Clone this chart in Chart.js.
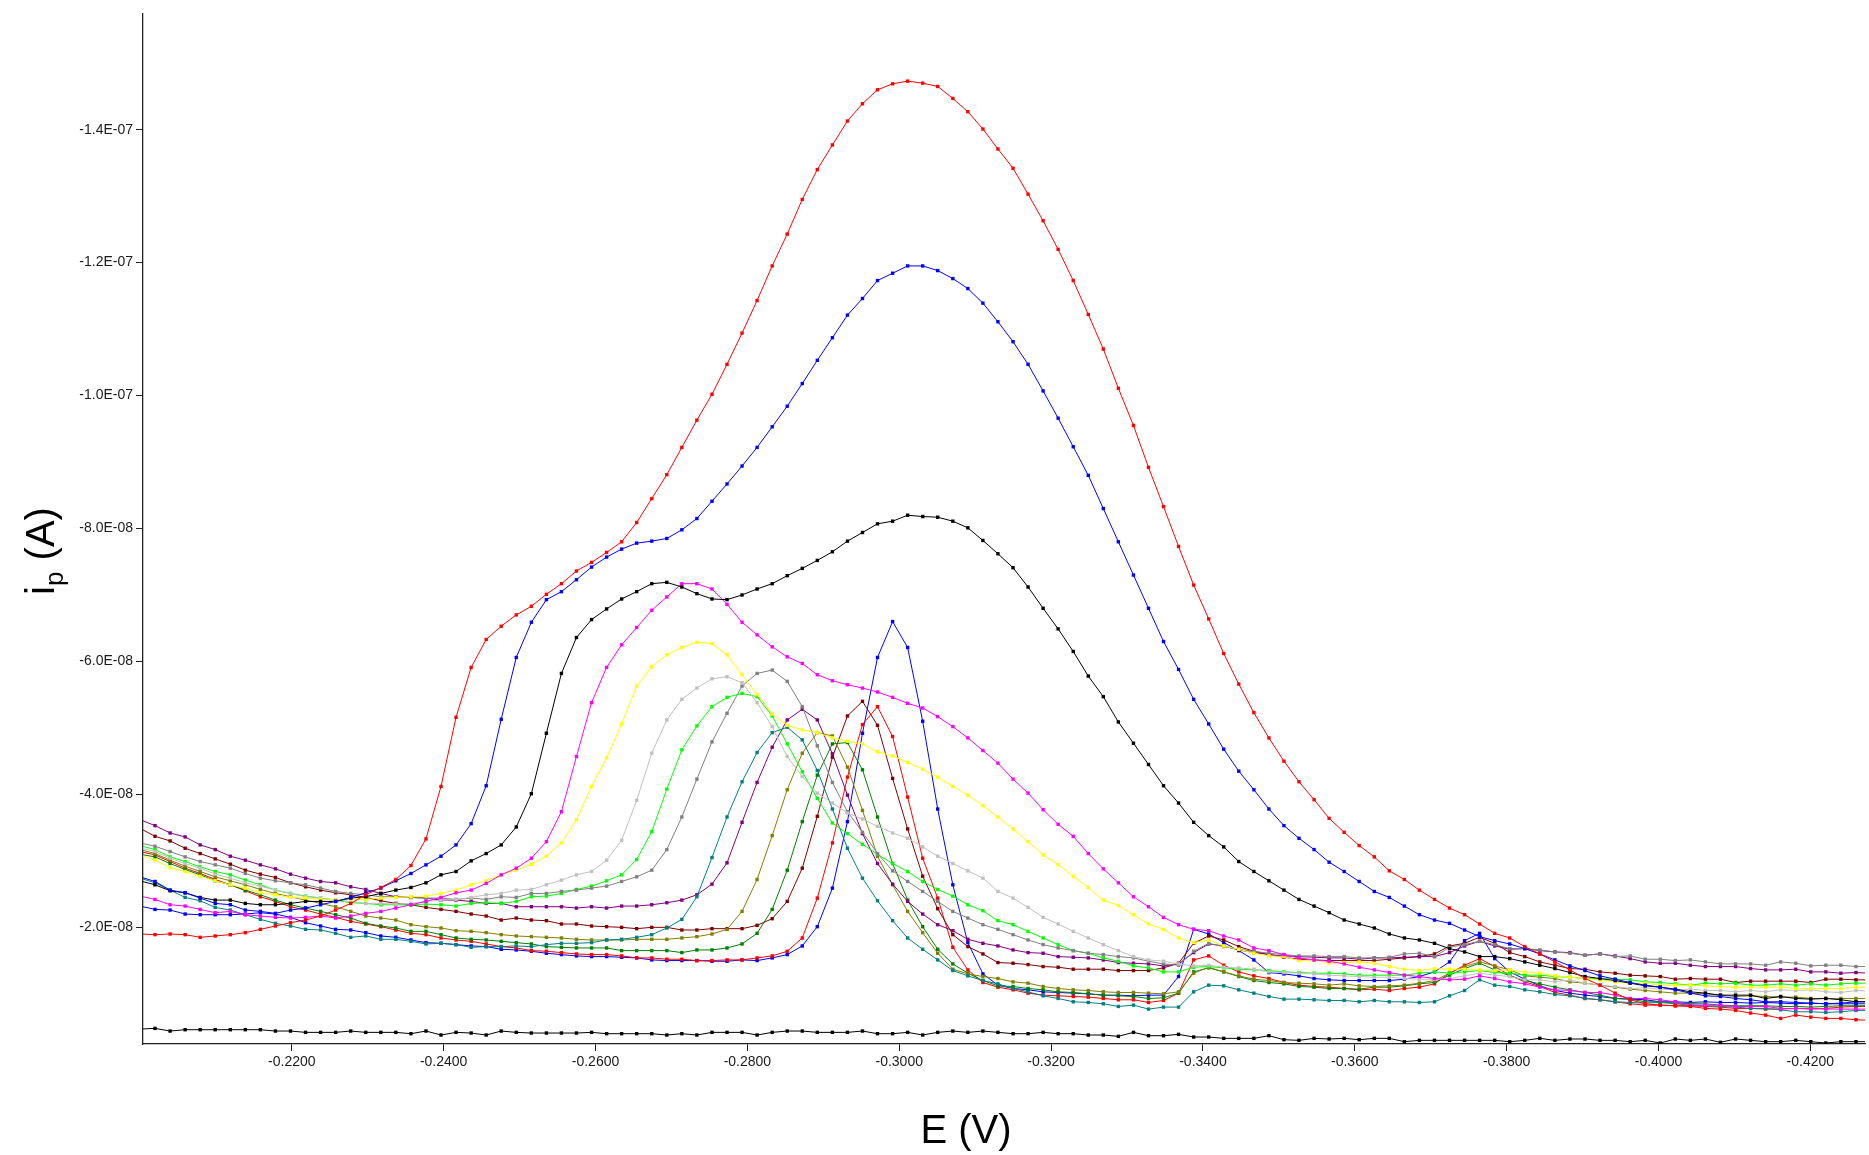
<!DOCTYPE html>
<html>
<head>
<meta charset="utf-8">
<title>Voltammograms</title>
<script src="https://cdn.jsdelivr.net/npm/chart.js@4.4.1/dist/chart.umd.min.js"></script>
<style>
  html, body { margin: 0; padding: 0; background: #ffffff; }
  #chartBox { width: 1869px; height: 1155px; }
</style>
</head>
<body>
<div id="chartBox"><canvas id="voltChart" width="1869" height="1155"></canvas></div>
<script>
// Potential grid (V), sampling step about 1.98 mV
const potentials = [
  -0.20000, -0.20198, -0.20397, -0.20595, -0.20793, -0.20991, -0.21190, -0.21388, -0.21586, -0.21784,
  -0.21983, -0.22181, -0.22379, -0.22577, -0.22776, -0.22974, -0.23172, -0.23370, -0.23569, -0.23767,
  -0.23965, -0.24163, -0.24362, -0.24560, -0.24758, -0.24956, -0.25155, -0.25353, -0.25551, -0.25749,
  -0.25948, -0.26146, -0.26344, -0.26542, -0.26741, -0.26939, -0.27137, -0.27335, -0.27534, -0.27732,
  -0.27930, -0.28128, -0.28327, -0.28525, -0.28723, -0.28921, -0.29120, -0.29318, -0.29516, -0.29714,
  -0.29913, -0.30111, -0.30309, -0.30507, -0.30706, -0.30904, -0.31102, -0.31300, -0.31499, -0.31697,
  -0.31895, -0.32093, -0.32292, -0.32490, -0.32688, -0.32886, -0.33085, -0.33283, -0.33481, -0.33679,
  -0.33878, -0.34076, -0.34274, -0.34472, -0.34671, -0.34869, -0.35067, -0.35265, -0.35464, -0.35662,
  -0.35860, -0.36058, -0.36257, -0.36455, -0.36653, -0.36851, -0.37050, -0.37248, -0.37446, -0.37644,
  -0.37843, -0.38041, -0.38239, -0.38437, -0.38636, -0.38834, -0.39032, -0.39230, -0.39429, -0.39627,
  -0.39825, -0.40023, -0.40222, -0.40420, -0.40618, -0.40816, -0.41015, -0.41213, -0.41411, -0.41609,
  -0.41808, -0.42006, -0.42204, -0.42402, -0.42601, -0.42799
];

// Currents, stored as |i| in units of 1e-8 A (cathodic, plotted negative)
const AMP_UNIT = -1e-8;

const red1 = [1.90,
  1.89,1.90,1.89,1.85,1.87,1.89,1.92,1.97,2.02,2.07,2.11,2.17,2.26,2.36,2.49,2.60,2.72,2.93,3.33,4.12,5.16,5.91,6.33,6.53,6.70,6.83,7.01,7.17,7.36,7.49,
  7.64,7.80,8.09,8.45,8.81,9.22,9.63,10.02,10.47,10.94,11.43,11.95,12.43,12.95,13.40,13.77,14.13,14.39,14.60,14.69,14.73,14.70,14.65,14.47,14.27,14.01,13.71,13.42,13.03,12.63,12.20,11.73,11.22,
  10.70,10.11,9.55,8.92,8.33,7.73,
  7.15,6.64,6.12,5.66,5.23,4.85,4.50,4.19,3.92,3.64,3.43,3.23,3.06,2.85,2.72,2.56,2.42,
  2.29,2.19,2.05,1.91,1.84,1.71,1.60,1.48,1.36,1.23,1.13,1.01,0.91,0.85,0.83,0.82,0.81,0.78,0.77,0.75,0.71,0.68,0.63,0.68,0.65,0.63,0.63,0.61,
  0.60];

const blue1 = [2.76,
  2.69,2.56,2.52,2.44,2.36,2.34,2.26,2.24,2.21,2.26,2.29,2.34,2.39,2.45,2.52,2.59,2.70,2.81,2.94,3.07,3.24,3.56,4.13,5.13,6.06,6.59,6.93,7.05,7.23,7.42,
  7.57,7.69,7.78,7.81,7.85,7.98,8.15,8.41,8.67,8.94,9.22,9.53,9.84,10.18,10.53,10.87,11.21,11.46,11.73,11.84,11.95,11.95,11.88,11.76,11.61,11.39,11.11,10.81,10.47,10.07,9.66,9.23,8.80,
  8.30,7.80,
  7.30,6.80,6.30,5.88,5.43,5.06,4.68,4.35,4.07,3.78,3.53,3.34,3.17,2.98,2.84,2.69,2.54,2.45,2.32,2.19,2.11,
  2.06,1.96,1.86,1.80,1.75,1.68,1.60,1.51,1.42,1.35,1.27,1.22,1.17,1.13,1.10,1.06,1.01,0.97,0.96,0.93,0.91,0.88,0.88,0.87,0.86,0.85,0.85,0.85,
  0.85];

const black1 = [2.70,
  2.64,2.55,2.52,2.45,2.41,2.41,2.36,2.34,2.34,2.36,2.39,2.39,2.39,2.44,2.46,2.51,2.56,2.60,2.67,2.79,2.84,3.00,3.11,3.24,3.51,4.01,4.92,5.82,6.36,6.63,
  6.79,6.94,7.05,7.17,7.19,7.12,7.02,6.94,6.93,7.00,7.09,7.17,7.29,7.40,7.52,7.65,7.81,7.94,8.07,8.11,8.20,8.18,8.17,8.11,8.01,7.82,7.62,7.41,
  7.12,6.80,6.49,6.15,5.78,5.47,5.09,4.77,4.45,4.13,3.87,3.58,3.38,3.21,2.99,2.84,2.70,2.56,2.42,2.32,2.22,2.11,2.05,1.99,1.90,1.84,1.81,1.76,
  1.68,1.63,1.56,1.56,1.53,1.48,1.43,1.38,1.32,1.26,1.23,1.20,1.16,1.12,1.10,1.07,1.03,1.01,0.98,0.98,0.98,0.93,0.96,0.93,0.92,0.93,0.91,0.88,
  0.88];

const magenta = [2.47,
  2.42,2.34,2.32,2.27,2.22,2.24,2.19,2.17,2.15,2.14,2.15,2.17,2.14,2.17,2.21,2.24,2.29,2.34,2.39,2.45,2.52,2.56,2.66,2.79,2.89,3.04,3.29,3.74,4.57,5.38,
  5.91,6.25,6.51,6.77,6.97,7.17,7.17,7.09,6.86,6.59,6.40,6.22,6.07,5.97,5.80,5.71,5.65,5.60,5.54,5.46,5.37,5.30,5.17,5.02,4.85,4.66,4.47,4.23,
  4.02,3.77,3.55,3.37,3.11,2.88,2.67,2.46,2.31,2.15,2.04,1.97,1.95,1.87,1.81,1.69,1.65,1.59,1.54,1.51,1.49,1.45,1.40,1.36,1.32,1.28,1.26,1.23,
  1.21,1.22,1.27,1.23,1.18,1.15,1.10,1.06,1.05,1.02,1.02,0.98,0.93,0.93,0.91,0.88,0.83,0.83,0.83,0.81,0.81,0.81,0.78,0.78,0.78,0.77,0.77,0.77,
  0.77];

const yellow = [3.09,
  3.01,2.90,2.84,2.77,2.70,2.64,2.59,2.52,2.49,2.45,2.44,2.42,2.41,2.42,2.42,2.44,2.45,2.46,2.47,2.51,2.56,2.64,2.70,2.79,2.86,2.95,3.07,3.27,3.62,4.12,
  4.55,5.06,5.63,5.92,6.10,6.21,6.29,6.27,6.10,5.80,5.50,5.21,5.04,4.97,4.93,4.85,4.80,4.76,4.64,4.58,4.48,4.38,4.26,4.12,3.99,3.83,3.66,3.48,
  3.29,3.09,2.94,2.77,2.60,2.41,2.33,2.19,2.05,1.97,1.84,1.77,1.81,1.72,1.67,1.61,1.57,1.56,1.50,1.51,1.46,1.47,1.48,1.46,1.41,1.37,1.35,1.38,
  1.37,1.37,1.36,1.35,1.36,1.33,1.31,1.27,1.25,1.23,1.21,1.18,1.16,1.16,1.13,1.13,1.13,1.12,1.11,1.10,1.10,1.10,1.10,1.08,1.08,1.08,1.08,1.10,
  1.10];

const silver = [3.20,
  3.14,3.04,2.96,2.89,2.80,2.74,2.67,2.62,2.56,2.51,2.46,2.44,2.41,2.39,2.36,2.36,2.35,2.36,2.39,2.41,2.42,2.45,2.49,2.51,2.56,2.57,2.64,2.71,2.79,2.84,
  3.01,3.31,3.91,4.62,5.12,5.43,5.60,5.74,5.77,5.68,5.38,5.02,4.57,4.27,4.02,3.87,3.72,3.63,3.52,3.42,3.34,3.21,3.07,2.96,2.85,2.74,2.54,2.44,
  2.30,2.15,2.05,1.94,1.84,1.74,1.65,1.56,1.51,1.49,1.45,1.42,1.43,1.40,1.39,1.37,1.33,1.32,1.31,1.30,1.28,1.27,1.26,1.25,1.25,1.23,1.22,1.22,
  1.23,1.27,1.31,1.28,1.26,1.21,1.21,1.18,1.21,1.16,1.13,1.11,1.08,1.09,1.07,1.06,1.07,1.05,1.05,1.03,1.05,1.03,1.06,1.05,1.06,1.03,1.02,1.05,
  1.04];

const gray = [3.27,
  3.22,3.14,3.06,2.99,2.94,2.89,2.81,2.74,2.70,2.67,2.64,2.59,2.54,2.51,2.49,2.46,2.46,2.45,2.44,2.44,2.42,2.44,2.42,2.46,2.45,2.51,2.51,2.54,2.56,2.59,
  2.62,2.69,2.76,2.86,3.17,3.66,4.23,4.79,5.22,5.63,5.82,5.87,5.70,5.32,4.73,4.18,3.74,3.43,3.11,2.85,2.69,2.54,2.39,2.24,2.14,2.04,1.97,1.89,
  1.81,1.74,1.69,1.65,1.61,1.59,1.56,1.54,1.49,1.45,1.43,1.64,1.76,1.71,1.67,1.64,1.61,1.59,1.57,1.57,1.56,1.56,1.54,1.54,1.55,1.60,1.61,1.56,
  1.70,1.74,1.79,1.74,1.68,1.68,1.66,1.63,1.61,1.58,1.60,1.56,1.57,1.52,1.52,1.50,1.51,1.48,1.45,1.45,1.45,1.43,1.48,1.46,1.42,1.43,1.43,1.41,
  1.41];

const purple = [3.62,
  3.53,3.42,3.36,3.24,3.17,3.07,3.01,2.94,2.88,2.80,2.74,2.69,2.67,2.61,2.57,2.51,2.46,2.45,2.44,2.41,2.41,2.39,2.36,2.36,2.31,2.31,2.31,2.31,2.29,2.31,
  2.29,2.32,2.32,2.34,2.37,2.41,2.49,2.65,2.97,3.58,4.18,4.71,5.12,5.28,5.12,4.61,3.99,3.41,2.96,2.65,2.39,2.20,2.04,1.95,1.82,1.76,1.72,1.66,
  1.62,1.61,1.56,1.55,1.54,1.51,1.47,1.46,1.45,1.42,1.45,1.62,1.75,1.72,1.66,1.62,1.59,1.57,1.56,1.55,1.54,1.54,1.52,1.54,1.54,1.55,1.56,1.56,
  1.62,1.72,1.79,1.72,1.67,1.68,1.65,1.63,1.62,1.58,1.60,1.57,1.53,1.48,1.46,1.46,1.43,1.41,1.41,1.41,1.38,1.36,1.36,1.37,1.33,1.33,1.31,1.32,
  1.31];

const maroon = [3.49,
  3.37,3.30,3.19,3.11,3.03,2.95,2.86,2.80,2.75,2.67,2.61,2.56,2.52,2.49,2.45,2.40,2.36,2.34,2.30,2.27,2.24,2.20,2.17,2.11,2.14,2.11,2.10,2.05,2.05,2.02,
  2.01,2.00,1.98,2.00,2.00,1.96,1.96,1.98,1.98,1.98,2.03,2.13,2.39,2.89,3.67,4.56,5.18,5.40,5.04,4.24,3.48,2.77,2.28,1.89,1.71,1.60,1.47,1.46,
  1.44,1.41,1.40,1.37,1.37,1.37,1.35,1.35,1.35,1.39,1.46,1.76,1.87,1.81,1.71,1.64,1.59,1.55,1.52,1.51,1.50,1.50,1.50,1.50,1.52,1.54,1.56,1.60,
  1.72,1.76,1.85,1.76,1.62,1.56,1.48,1.43,1.38,1.37,1.33,1.31,1.28,1.27,1.26,1.22,1.23,1.22,1.22,1.17,1.19,1.19,1.19,1.19,1.17,1.22,1.22,1.21,
  1.21];

const lime = [3.23,
  3.17,3.06,2.99,2.91,2.84,2.79,2.71,2.64,2.56,2.51,2.47,2.44,2.41,2.37,2.36,2.34,2.34,2.34,2.35,2.34,2.32,2.36,2.37,2.36,2.39,2.46,2.47,2.51,2.57,2.62,
  2.70,2.79,3.02,3.44,4.08,4.67,5.03,5.32,5.46,5.52,5.47,5.18,4.76,4.34,3.94,3.57,3.41,3.25,3.10,2.96,2.84,2.69,2.57,2.47,2.34,2.25,2.10,2.04,
  1.94,1.84,1.74,1.65,1.61,1.54,1.49,1.42,1.39,1.33,1.33,1.40,1.41,1.39,1.37,1.36,1.35,1.33,1.32,1.31,1.31,1.30,1.28,1.28,1.28,1.28,1.31,1.33,
  1.31,1.33,1.35,1.32,1.31,1.28,1.28,1.26,1.25,1.23,1.23,1.22,1.21,1.18,1.17,1.15,1.13,1.16,1.15,1.16,1.13,1.13,1.15,1.13,1.15,1.13,1.15,1.16,
  1.16];

const teal = [2.74,
  2.67,2.56,2.45,2.40,2.30,2.26,2.19,2.12,2.06,2.02,1.97,1.96,1.91,1.85,1.87,1.82,1.82,1.79,1.75,1.76,1.74,1.70,1.71,1.71,1.72,1.71,1.74,1.76,1.76,1.77,
  1.81,1.82,1.85,1.89,1.99,2.12,2.46,3.05,3.66,4.19,4.63,4.93,5.01,4.82,4.36,3.78,3.19,2.74,2.40,2.10,1.84,1.67,1.51,1.35,1.27,1.20,1.15,1.08,
  1.03,0.97,0.93,0.88,0.87,0.85,0.81,0.83,0.77,0.80,0.80,1.03,1.13,1.12,1.06,1.01,0.96,0.92,0.92,0.91,0.90,0.90,0.88,0.90,0.88,0.88,0.87,0.88,
  0.97,1.05,1.21,1.13,1.11,1.06,1.03,0.99,0.97,0.93,0.91,0.88,0.87,0.86,0.87,0.85,0.83,0.82,0.81,0.80,0.78,0.78,0.76,0.73,0.73,0.72,0.73,0.75,
  0.75];

const olive = [3.17,
  3.11,3.01,2.92,2.84,2.76,2.70,2.64,2.57,2.51,2.46,2.41,2.36,2.31,2.24,2.17,2.14,2.11,2.04,2.01,1.99,1.95,1.94,1.92,1.89,1.87,1.86,1.85,1.84,1.82,1.81,
  1.81,1.81,1.82,1.82,1.82,1.84,1.86,1.90,1.97,2.24,2.72,3.38,4.07,4.62,4.93,4.88,4.41,3.76,3.07,2.64,2.24,1.92,1.61,1.37,1.30,1.26,1.23,1.18,
  1.16,1.11,1.08,1.06,1.05,1.03,1.02,1.02,1.01,1.00,1.03,1.31,1.40,1.33,1.27,1.22,1.20,1.17,1.16,1.15,1.13,1.15,1.12,1.11,1.12,1.13,1.16,1.20,
  1.31,1.41,1.48,1.42,1.36,1.27,1.25,1.23,1.18,1.16,1.13,1.10,1.07,1.05,1.03,1.01,1.01,1.00,0.98,0.96,0.97,0.96,0.95,0.95,0.93,0.93,0.93,0.93,
  0.93];

const green = [3.10,
  3.06,2.96,2.87,2.79,2.70,2.64,2.56,2.49,2.41,2.34,2.29,2.24,2.19,2.14,2.06,2.02,1.99,1.94,1.94,1.89,1.84,1.82,1.81,1.79,1.77,1.75,1.71,1.70,1.69,1.69,
  1.69,1.65,1.65,1.65,1.65,1.62,1.66,1.66,1.69,1.75,1.91,2.27,2.86,3.59,4.29,4.76,4.78,4.37,3.66,2.96,2.41,2.01,1.67,1.45,1.31,1.20,1.12,1.11,
  1.08,1.06,1.03,1.02,1.00,0.98,0.97,0.96,0.93,0.94,1.01,1.33,1.39,1.33,1.26,1.20,1.17,1.15,1.11,1.10,1.08,1.08,1.07,1.10,1.10,1.12,1.15,1.17,
  1.28,1.38,1.46,1.36,1.27,1.20,1.15,1.10,1.06,1.02,0.98,0.93,0.92,0.88,0.88,0.86,0.85,0.85,0.83,0.82,0.82,0.82,0.81,0.81,0.80,0.81,0.82,0.82,
  0.82];

const red2 = [3.14,
  3.09,2.99,2.89,2.81,2.72,2.64,2.55,2.46,2.39,2.31,2.26,2.20,2.15,2.09,2.05,2.01,1.96,1.91,1.89,1.84,1.81,1.79,1.75,1.71,1.69,1.65,1.64,1.62,1.60,1.59,
  1.59,1.57,1.54,1.54,1.52,1.52,1.50,1.50,1.51,1.51,1.54,1.57,1.64,1.84,2.44,3.27,4.26,5.05,5.32,4.87,3.96,3.04,2.44,1.70,1.36,1.17,1.10,1.06,
  1.01,0.98,0.97,0.96,0.95,0.93,0.91,0.91,0.87,0.90,1.01,1.51,1.57,1.43,1.33,1.27,1.23,1.17,1.13,1.11,1.10,1.08,1.06,1.07,1.05,1.08,1.10,1.15,
  1.31,1.43,1.53,1.41,1.28,1.18,1.11,1.02,0.98,0.93,0.91,0.88,0.85,0.83,0.83,0.82,0.82,0.81,0.80,0.78,0.78,0.77,0.77,0.78,0.77,0.78,0.80,0.81,
  0.81];

const blue2 = [2.32,
  2.27,2.26,2.20,2.19,2.19,2.19,2.20,2.22,2.20,2.15,2.07,2.02,1.97,1.96,1.92,1.87,1.85,1.81,1.77,1.76,1.74,1.72,1.71,1.67,1.66,1.64,1.61,1.59,1.57,1.56,
  1.56,1.55,1.54,1.51,1.50,1.50,1.50,1.49,1.49,1.51,1.50,1.54,1.59,1.72,2.01,2.59,3.59,4.92,6.06,6.60,6.21,5.10,3.78,2.64,1.77,1.30,1.13,1.08,
  1.06,1.03,1.02,1.01,1.00,0.98,0.98,0.97,0.98,0.98,1.26,1.97,1.90,1.77,1.65,1.51,1.32,1.30,1.27,1.23,1.21,1.20,1.20,1.20,1.20,1.22,1.26,1.33,
  1.48,1.80,1.91,1.53,1.33,1.22,1.12,1.05,1.01,0.98,0.96,0.93,0.92,0.91,0.88,0.88,0.87,0.88,0.87,0.87,0.86,0.87,0.86,0.85,0.86,0.85,0.86,0.88,
  0.88];

const blank = [0.47,
  0.48,0.44,0.46,0.46,0.46,0.46,0.46,0.46,0.44,0.44,0.42,0.42,0.42,0.44,0.42,0.42,0.42,0.40,0.44,0.38,0.42,0.41,0.38,0.44,0.42,0.41,0.41,0.41,0.41,0.42,
  0.40,0.40,0.40,0.40,0.38,0.40,0.38,0.42,0.42,0.42,0.38,0.42,0.44,0.44,0.42,0.42,0.42,0.44,0.40,0.40,0.42,0.38,0.42,0.44,0.42,0.44,0.42,0.40,
  0.40,0.42,0.40,0.40,0.38,0.38,0.36,0.42,0.37,0.37,0.39,0.35,0.35,0.33,0.33,0.33,0.37,0.31,0.30,0.33,0.32,0.33,0.31,0.33,0.33,0.28,0.30,0.30,
  0.30,0.30,0.30,0.30,0.28,0.30,0.33,0.30,0.32,0.32,0.30,0.30,0.28,0.30,0.26,0.32,0.30,0.32,0.27,0.32,0.30,0.28,0.28,0.30,0.28,0.26,0.28,0.28,
  0.28];

// Axis ticks
const xTickValues = [-0.22, -0.24, -0.26, -0.28, -0.30, -0.32, -0.34, -0.36, -0.38, -0.40, -0.42];
const xTickLabels = ['-0.2200', '-0.2400', '-0.2600', '-0.2800', '-0.3000', '-0.3200', '-0.3400', '-0.3600', '-0.3800', '-0.4000', '-0.4200'];
const yTickValues = [-2e-8, -4e-8, -6e-8, -8e-8, -1e-7, -1.2e-7, -1.4e-7];
const yTickLabels = ['-2.0E-08', '-4.0E-08', '-6.0E-08', '-8.0E-08', '-1.0E-07', '-1.2E-07', '-1.4E-07'];

// Series and their line colours
const curves = [
    { name: 'blank', values: blank, color: '#000000' },
    { name: 'red 1', values: red1, color: '#FF0000' },
    { name: 'blue 1', values: blue1, color: '#0000FF' },
    { name: 'black 1', values: black1, color: '#000000' },
    { name: 'magenta', values: magenta, color: '#FF00FF' },
    { name: 'yellow', values: yellow, color: '#FFFF00' },
    { name: 'silver', values: silver, color: '#C0C0C0' },
    { name: 'gray', values: gray, color: '#808080' },
    { name: 'lime', values: lime, color: '#00FF00' },
    { name: 'teal', values: teal, color: '#008080' },
    { name: 'purple', values: purple, color: '#800080' },
    { name: 'olive', values: olive, color: '#808000' },
    { name: 'green', values: green, color: '#008000' },
    { name: 'maroon', values: maroon, color: '#800000' },
    { name: 'red 2', values: red2, color: '#FF0000' },
    { name: 'blue 2', values: blue2, color: '#0000FF' }
];

// Axis titles drawn on top (the y title needs a subscript)
const axisTitles = {
    id: 'axisTitles',
    afterDraw(chart) {
        const ctx = chart.ctx;
        const font = '"Liberation Sans", Arial, sans-serif';
        ctx.save();
        ctx.fillStyle = '#000000';
        ctx.textBaseline = 'alphabetic';

        // E (V)
        ctx.font = '40px ' + font;
        ctx.textAlign = 'center';
        ctx.fillText('E (V)', 966, 1143);

        // i_p (A), rotated
        ctx.translate(54, 551);
        ctx.rotate(-Math.PI / 2);
        ctx.textAlign = 'left';
        ctx.font = '40px ' + font;
        const wI = ctx.measureText('i').width;
        const wRest = ctx.measureText(' (A)').width;
        ctx.font = '26px ' + font;
        const wP = ctx.measureText('p').width;
        let x = -(wI + wP + wRest) / 2;
        ctx.font = '40px ' + font;
        ctx.fillText('i', x, 0);
        x += wI;
        ctx.font = '26px ' + font;
        ctx.fillText('p', x, 9);
        x += wP;
        ctx.font = '40px ' + font;
        ctx.fillText(' (A)', x, 0);
        ctx.restore();
    }
};

const tickFont = { family: '"Liberation Sans", Arial, sans-serif', size: 14 };

new Chart(document.getElementById('voltChart'), {
    type: 'line',
    data: {
        datasets: curves.map(c => ({
            label: c.name,
            data: potentials.map((e, k) => ({ x: e, y: c.values[k] * AMP_UNIT })),
            borderColor: c.color,
            backgroundColor: c.color,
            pointBackgroundColor: c.color,
            pointBorderWidth: 0,
            pointStyle: 'rect',
            pointRadius: 2.4,
            borderWidth: 1,
            tension: 0,
            fill: false
        }))
    },
    options: {
        responsive: false,
        animation: false,
        events: [],
        layout: { padding: { top: 14, right: 0, bottom: 0, left: 0 } },
        plugins: {
            legend: { display: false },
            tooltip: { enabled: false },
            title: { display: false }
        },
        scales: {
            x: {
                type: 'linear',
                reverse: true,
                min: -0.4272,
                max: -0.2004,
                afterBuildTicks: (axis) => { axis.ticks = xTickValues.map(v => ({ value: v })); },
                afterFit: (axis) => { axis.height = 111; },
                ticks: {
                    callback: (value, index) => xTickLabels[index],
                    font: tickFont,
                    color: '#1a1a1a',
                    padding: 3,
                    maxRotation: 0,
                    autoSkip: false
                },
                grid: { drawOnChartArea: false, drawTicks: true, tickLength: 7, color: '#222222', lineWidth: 1 },
                border: { display: true, color: '#222222', width: 1.3 }
            },
            y: {
                type: 'linear',
                reverse: true,
                min: -1.574e-7,
                max: -2.45e-9,
                afterBuildTicks: (axis) => { axis.ticks = yTickValues.map(v => ({ value: v })); },
                afterFit: (axis) => { axis.width = 143; },
                ticks: {
                    callback: (value, index) => yTickLabels[index],
                    font: tickFont,
                    color: '#1a1a1a',
                    padding: 3,
                    autoSkip: false
                },
                grid: { drawOnChartArea: false, drawTicks: true, tickLength: 7, color: '#222222', lineWidth: 1 },
                border: { display: true, color: '#222222', width: 1.3 }
            }
        }
    },
    plugins: [axisTitles]
});
</script>
</body>
</html>
